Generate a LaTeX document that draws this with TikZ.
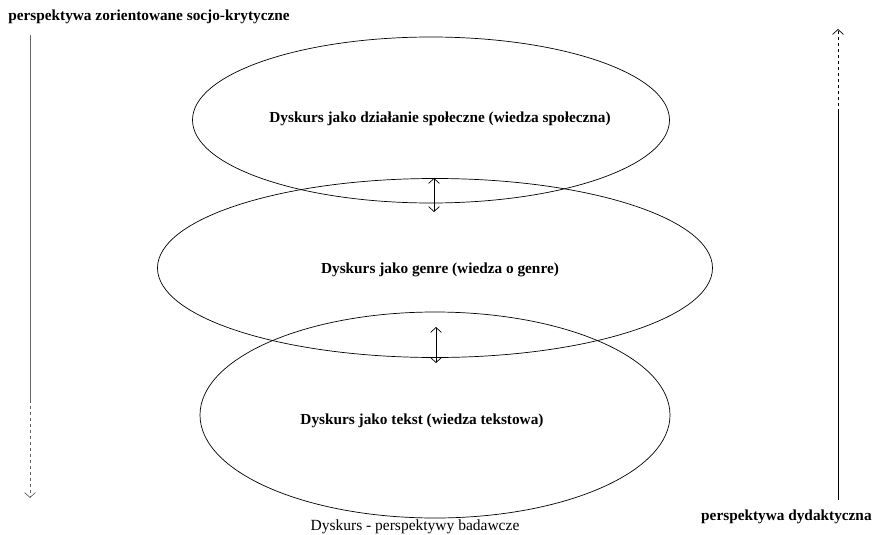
\documentclass[tikz,border=0pt]{standalone}
\usepackage{fontspec}
\setmainfont{Liberation Serif}
\usetikzlibrary{arrows.meta,shapes.geometric}

\begin{document}
\begin{tikzpicture}[
  x=1pt, y=-1pt, line width=0.7pt,
  warstwa/.style={draw, ellipse, inner sep=0pt},
  opis/.style={font=\fontsize{15.3}{18}\selectfont\bfseries, inner sep=0pt},
  dwustr/.style={{Straight Barb[length=5pt,width=11pt]}-{Straight Barb[length=5pt,width=11pt]}},
  grot/.style={-{Straight Barb[length=5pt,width=11pt]}, dashed, gray!80!black}
]
\useasboundingbox (0,0) rectangle (875,535);
% warstwy dyskursu
\node[warstwa, minimum width=477pt, minimum height=166pt] (spol) at (431,120) {};
\node[warstwa, minimum width=555pt, minimum height=179pt] (genre) at (435,268) {};
\node[warstwa, minimum width=470pt, minimum height=206pt] (tekst) at (435,415) {};
\node[opis] (tSpol) at (440,119) {Dyskurs jako działanie społeczne (wiedza społeczna)};
\node[opis] (tGenre) at (440,270) {Dyskurs jako genre (wiedza o genre)};
\node[opis] (tTekst) at (422,421) {Dyskurs jako tekst (wiedza tekstowa)};
% strzalki miedzy warstwami
\coordinate (a1) at (434,178);
\coordinate (b1) at (434,212);
\coordinate (a2) at (436,327);
\coordinate (b2) at (436,363);
\draw[dwustr] (a1) -- (b1);
\draw[dwustr] (a2) -- (b2);
% perspektywy
\node[opis, anchor=west] (lewy) at (8,17) {perspektywa zorientowane socjo-krytyczne};
\node[opis, anchor=east] (prawy) at (872,517) {perspektywa dydaktyczna};
\node[font=\fontsize{15.5}{18}\selectfont, inner sep=0pt] (podpis) at (415,527) {Dyskurs - perspektywy badawcze};
\coordinate (l1) at (30,35);
\coordinate (l2) at (30,400);
\coordinate (l3) at (30,498);
\coordinate (p1) at (838,500);
\coordinate (p2) at (838,112);
\coordinate (p3) at (838,29);
\draw[gray!80!black] (l1) -- (l2);
\draw[grot] (l2) -- (l3);
\draw (p1) -- (p2);
\draw[grot, black] (p2) -- (p3);
\end{tikzpicture}
\end{document}
